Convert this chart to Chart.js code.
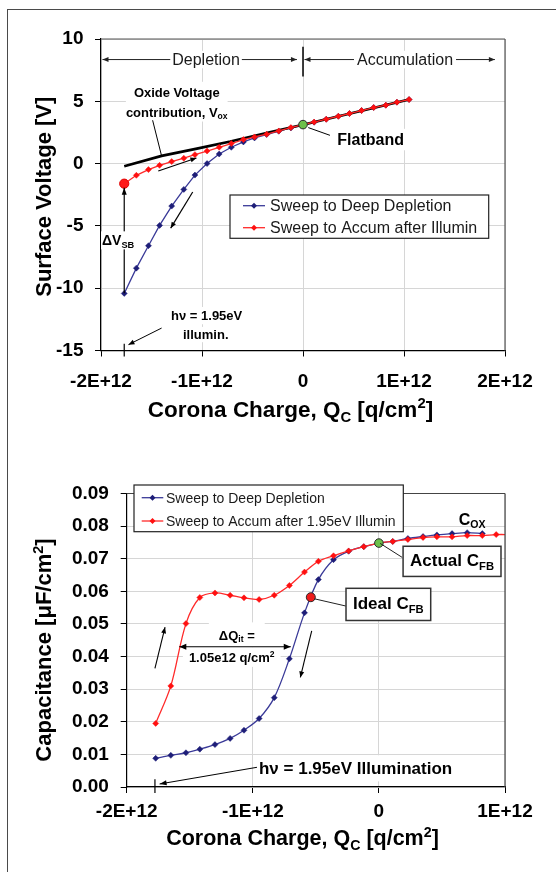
<!DOCTYPE html>
<html>
<head>
<meta charset="utf-8">
<title>Corona charge sweeps</title>
<script src="https://cdn.jsdelivr.net/npm/chart.js@4.4.1/dist/chart.umd.min.js"></script>
<style>
  html, body { margin: 0; padding: 0; background: #fff; overflow: hidden; }
  #fig { position: relative; width: 556px; height: 872px; overflow: hidden; background: #fff; }
  #frame { position: absolute; left: 7px; top: 9px; width: 600px; height: 900px;
           border-left: 1.5px solid #4a4a4a; border-top: 1.5px solid #4a4a4a; }
  canvas { position: absolute; left: 0; }
  #voltageChart { top: 0; }
  #capChart { top: 430px; }
</style>
</head>
<body>
<div id="fig">
  <div id="frame"></div>
  <canvas id="voltageChart" width="556" height="430"></canvas>
  <canvas id="capChart" width="556" height="442"></canvas>
</div>
<script>
// ---- measured sweeps -------------------------------------------------------
// corona charge deposited at each step [q/cm^2]
const chargeSteps = [-1.77e12, -1.65e12, -1.53e12, -1.42e12, -1.30e12, -1.18e12, -1.07e12,
  -0.95e12, -0.83e12, -0.71e12, -0.59e12, -0.48e12, -0.36e12, -0.24e12, -0.12e12, 0,
  0.11e12, 0.23e12, 0.35e12, 0.46e12, 0.58e12, 0.70e12, 0.82e12, 0.93e12, 1.05e12];

// surface voltage [V]
const vDeepDepletion = [-10.42, -8.39, -6.59, -4.96, -3.41, -2.07, -0.92, 0.00, 0.77, 1.31,
  1.74, 2.06, 2.33, 2.60, 2.86, 3.10, 3.32, 3.56, 3.80, 4.02, 4.26, 4.50, 4.69, 4.93, 5.14];
const vAccumIllum = [-1.61, -0.94, -0.48, -0.14, 0.16, 0.43, 0.72, 1.01, 1.31, 1.61,
  1.93, 2.14, 2.36, 2.62, 2.89, 3.12, 3.33, 3.56, 3.80, 4.02, 4.26, 4.50, 4.69, 4.93, 5.14];

// oxide voltage contribution
const oxideCharge = [-1.77e12, -1.40e12, -1.05e12, -0.72e12, -0.33e12, 0, 1.05e12];
const oxideVoltage = [-0.22, 0.62, 1.20, 1.77, 2.52, 3.12, 5.14];

// highlighted points on the voltage plot
const flatbandCharge = [0];
const flatbandVoltage = [3.13];
const illumCharge = [-1.77e12];
const illumVoltage = [-1.61];

// capacitance [uF/cm^2]
const cDeepDepletion = [0.0088, 0.0097, 0.0105, 0.0116, 0.0130, 0.0149, 0.0174, 0.0210, 0.0274,
  0.0393, 0.0534, 0.0636, 0.0697, 0.0723, 0.0737, 0.0748, 0.0753, 0.0762, 0.0768, 0.0773,
  0.0777, 0.0780, 0.0777];
const cAccumIllum = [0.0195, 0.0310, 0.0501, 0.0581, 0.0595, 0.0588, 0.0580, 0.0575, 0.0588,
  0.0618, 0.0659, 0.0692, 0.0709, 0.0724, 0.0737, 0.0748, 0.0753, 0.0759, 0.0765, 0.0767,
  0.0767, 0.0771, 0.0771, 0.0774, 0.0774];

const actualCfbCharge = [0];
const actualCfbCap = [0.0748];
const idealCfbCharge = [-0.54e12];
const idealCfbCap = [0.0582];

// axis ticks
const voltXTicks = [-2e12, -1e12, 0, 1e12, 2e12];
const voltXLabels = ['-2E+12', '-1E+12', '0', '1E+12', '2E+12'];
const voltYTicks = [-15, -10, -5, 0, 5, 10];
const voltYLabels = ['-15', '-10', '-5', '0', '5', '10'];
const capXTicks = [-2e12, -1e12, 0, 1e12];
const capXLabels = ['-2E+12', '-1E+12', '0', '1E+12'];
const capYTicks = [0, 0.01, 0.02, 0.03, 0.04, 0.05, 0.06, 0.07, 0.08, 0.09];
const capYLabels = ['0.00', '0.01', '0.02', '0.03', '0.04', '0.05', '0.06', '0.07', '0.08', '0.09'];

// ---- styling ---------------------------------------------------------------
const FONT = '"Liberation Sans", Arial, Helvetica, sans-serif';
const BLUE_LINE = '#3a3a98';
const BLUE_MARK = '#1e1e78';
const RED_LINE = '#ff2a2a';
const RED_MARK = '#ff1010';
const GREEN = '#6cc04a';
const GRID = '#d6d6d6';
const CAP_H = 0.716;

function pairs(xs, ys) {
  const n = Math.min(xs.length, ys.length);
  const out = [];
  for (let i = 0; i < n; i++) out.push({ x: xs[i], y: ys[i] });
  return out;
}

function labelFor(values, labels) {
  return (v) => {
    const i = values.findIndex(t => Math.abs(t - v) < 1e-9 * Math.max(1, Math.abs(t)));
    return i < 0 ? '' : labels[i];
  };
}

function axis(opts) {
  return {
    type: 'linear',
    min: opts.min, max: opts.max,
    afterBuildTicks: s => { s.ticks = opts.ticks.map(v => ({ value: v })); },
    afterFit: opts.fit,
    grid: { color: GRID, lineWidth: 1, tickColor: '#000', tickLength: 6, drawTicks: true },
    border: { display: true, color: '#000', width: 1.2 },
    ticks: {
      color: '#000', padding: opts.pad, autoSkip: false, maxRotation: 0,
      font: { family: FONT, size: 19, weight: 'bold' },
      callback: labelFor(opts.ticks, opts.labels)
    }
  };
}

// ---- drawing helpers -------------------------------------------------------
function font(size, bold) { return (bold ? 'bold ' : '') + size + 'px ' + FONT; }

// rich text: segments {t, sub, sup}
function richMeasure(ctx, segs, size, bold) {
  let w = 0;
  for (const s of segs) {
    ctx.font = font((s.sub || s.sup) ? size * 0.66 : size, bold);
    w += ctx.measureText(s.t).width;
  }
  return w;
}
function richText(ctx, segs, x, y, size, bold, align, color) {
  const w = richMeasure(ctx, segs, size, bold);
  let cx = align === 'center' ? x - w / 2 : (align === 'right' ? x - w : x);
  ctx.save();
  ctx.fillStyle = color || '#000';
  ctx.textBaseline = 'alphabetic';
  ctx.textAlign = 'left';
  for (const s of segs) {
    const sz = (s.sub || s.sup) ? size * 0.66 : size;
    ctx.font = font(sz, bold);
    const dy = s.sub ? size * 0.2 : (s.sup ? -size * 0.38 : 0);
    ctx.fillText(s.t, cx, y + dy);
    cx += ctx.measureText(s.t).width;
  }
  ctx.restore();
  return w;
}

function line(ctx, x1, y1, x2, y2, width, color) {
  ctx.save();
  ctx.strokeStyle = color || '#000';
  ctx.lineWidth = width || 1;
  ctx.beginPath(); ctx.moveTo(x1, y1); ctx.lineTo(x2, y2); ctx.stroke();
  ctx.restore();
}

function arrow(ctx, x1, y1, x2, y2, o) {
  o = Object.assign({ start: false, end: true, width: 1.2, color: '#000', head: 7, half: 3 }, o || {});
  ctx.save();
  ctx.strokeStyle = o.color; ctx.fillStyle = o.color; ctx.lineWidth = o.width;
  ctx.beginPath(); ctx.moveTo(x1, y1); ctx.lineTo(x2, y2); ctx.stroke();
  const head = (x, y, a) => {
    const c = Math.cos(a), s = Math.sin(a);
    ctx.beginPath();
    ctx.moveTo(x, y);
    ctx.lineTo(x - o.head * c + o.half * s, y - o.head * s - o.half * c);
    ctx.lineTo(x - o.head * c - o.half * s, y - o.head * s + o.half * c);
    ctx.closePath(); ctx.fill();
  };
  const a = Math.atan2(y2 - y1, x2 - x1);
  if (o.end) head(x2, y2, a);
  if (o.start) head(x1, y1, a + Math.PI);
  ctx.restore();
}

function whiteBox(ctx, l, t, w, h, stroke, lw) {
  ctx.save();
  ctx.fillStyle = '#fff';
  ctx.fillRect(l, t, w, h);
  if (stroke) {
    ctx.strokeStyle = stroke; ctx.lineWidth = lw || 1;
    ctx.strokeRect(l, t, w, h);
  }
  ctx.restore();
}

// text with white backing box; (x, y) is the cap-height centre
function boxedText(ctx, segs, x, y, size, bold, align, o) {
  o = o || {};
  const w = richMeasure(ctx, segs, size, bold);
  const padX = o.padX != null ? o.padX : 4, padY = o.padY != null ? o.padY : 4;
  const capH = size * CAP_H;
  const l = align === 'center' ? x - w / 2 : x;
  whiteBox(ctx, l - padX, y - capH / 2 - padY, w + 2 * padX, capH + 2 * padY + (o.extraBottom || 0), o.stroke, o.lw);
  richText(ctx, segs, l, y + capH / 2, size, bold, 'left', o.color);
}

function plotFrame(chart, color) {
  const { ctx, chartArea: a } = chart;
  line(ctx, a.left, a.top, a.right, a.top, 1.2, color);
  line(ctx, a.right, a.top, a.right, a.bottom, 1.2, color);
}

function legendBox(chart, spec) {
  const ctx = chart.ctx;
  const [l, t, r, b] = spec.box;
  whiteBox(ctx, l, t, r - l, b - t, '#222', 1.2);
  const shown = chart.data.datasets.filter(d => d.inLegend);
  shown.forEach((d, i) => {
    const y = spec.rows[i];
    line(ctx, spec.sample[0], y, spec.sample[1], y, d.borderWidth, d.borderColor);
    const m = (spec.sample[0] + spec.sample[1]) / 2, r0 = 3;
    ctx.save();
    ctx.fillStyle = d.pointBackgroundColor;
    ctx.beginPath();
    ctx.moveTo(m, y - r0); ctx.lineTo(m + r0, y); ctx.lineTo(m, y + r0); ctx.lineTo(m - r0, y);
    ctx.closePath(); ctx.fill();
    ctx.fillStyle = '#1a1a1a';
    ctx.font = font(spec.size, false);
    ctx.textBaseline = 'middle';
    ctx.fillText(d.label, spec.textX, y + 1);
    ctx.restore();
  });
}

function rotatedTitle(ctx, segs, cx, cy, size) {
  ctx.save();
  ctx.translate(cx, cy);
  ctx.rotate(-Math.PI / 2);
  richText(ctx, segs, 0, size * CAP_H / 2, size, true, 'center');
  ctx.restore();
}

const chargeTitle = [{ t: 'Corona Charge, Q' }, { t: 'C', sub: true }, { t: ' [q/cm' }, { t: '2', sup: true }, { t: ']' }];

// ---- surface voltage chart -------------------------------------------------
const voltageNotes = {
  id: 'voltageNotes',
  afterDatasetsDraw(chart) {
    const ctx = chart.ctx;
    const X = v => chart.scales.x.getPixelForValue(v);
    const Y = v => chart.scales.y.getPixelForValue(v);
    plotFrame(chart, '#555');

    // regime arrows along the top
    const yReg = Y(8.35);
    arrow(ctx, X(-0.06e12), yReg, X(-1.985e12), yReg, { start: true, width: 1, head: 6, half: 2.5, color: '#222' });
    boxedText(ctx, [{ t: 'Depletion' }], X(-0.96e12), yReg, 16, false, 'center', { padX: 2, padY: 3, color: '#1a1a1a' });
    arrow(ctx, X(1.90e12), yReg, X(0.015e12), yReg, { start: true, width: 1, head: 6, half: 2.5, color: '#222' });
    boxedText(ctx, [{ t: 'Accumulation' }], X(1.01e12), yReg, 16, false, 'center', { padX: 3, padY: 3, color: '#1a1a1a' });
    line(ctx, X(0), Y(9.37), X(0), Y(7.0), 1.5, '#000');

    // oxide voltage note
    boxedText(ctx, [{ t: 'Oxide Voltage' }], X(-1.25e12), Y(5.71), 13, true, 'center', { padX: 8, padY: 6 });
    boxedText(ctx, [{ t: 'contribution, V' }, { t: 'ox', sub: true }], X(-1.25e12), Y(4.15), 13, true, 'center', { padX: 8, padY: 5 });
    line(ctx, X(-1.489e12), Y(3.48), X(-1.40e12), Y(0.61), 1, '#000');

    // sweep direction arrows
    arrow(ctx, X(-1.433e12), Y(-0.59), X(-1.055e12), Y(0.45), { width: 1.2, head: 6, half: 2.5 });
    arrow(ctx, X(-1.092e12), Y(-2.28), X(-1.31e12), Y(-5.18), { width: 1.2, head: 6, half: 2.5 });

    // voltage step after illumination
    arrow(ctx, X(-1.77e12), Y(-10.4), X(-1.77e12), Y(-1.93), { width: 1.2, head: 7, half: 2.5 });
    boxedText(ctx, [{ t: '\u0394V' }, { t: 'SB', sub: true }], X(-1.83e12), Y(-6.16), 14, true, 'center', { padX: 1, padY: 4 });

    // illumination note
    boxedText(ctx, [{ t: 'h\u03bd = 1.95eV' }], X(-0.954e12), Y(-12.2), 13, true, 'center', { padX: 4, padY: 4 });
    boxedText(ctx, [{ t: 'illumin.' }], X(-0.963e12), Y(-13.72), 13, true, 'center', { padX: 4, padY: 3 });
    arrow(ctx, X(-1.40e12), Y(-13.2), X(-1.728e12), Y(-14.53), { width: 1, head: 6, half: 2.5 });
    line(ctx, X(-1.77e12), Y(-14.45), X(-1.77e12), Y(-15) + 6, 1.2, '#000');

    // flatband
    line(ctx, X(0.052e12), Y(2.89), X(0.267e12), Y(2.27), 1, '#000');
    boxedText(ctx, [{ t: 'Flatband' }], X(0.34e12), Y(1.93), 16, true, 'left', { padX: 3, padY: 5 });

    legendBox(chart, { box: [230, 195, 488.7, 238.3], rows: [205.7, 227.7], sample: [243, 265], textX: 270, size: 16 });
  },
  afterDraw(chart) {
    const ctx = chart.ctx;
    rotatedTitle(ctx, [{ t: 'Surface Voltage [V]' }], 43.5, 196.7, 22);
    richText(ctx, chargeTitle, 290.5, 417, 22.5, true, 'center');
  }
};

new Chart(document.getElementById('voltageChart'), {
  type: 'line',
  data: {
    datasets: [
      { label: 'Sweep to Deep Depletion', inLegend: true, data: pairs(chargeSteps, vDeepDepletion),
        borderColor: BLUE_LINE, borderWidth: 1.3, pointStyle: 'rectRot', pointRadius: 3,
        pointBackgroundColor: BLUE_MARK, pointBorderColor: BLUE_MARK, pointBorderWidth: 0.5, tension: 0, order: 3 },
      { label: 'Oxide Voltage', data: pairs(oxideCharge, oxideVoltage),
        borderColor: '#000', borderWidth: 2.6, pointRadius: 0, tension: 0, order: 2 },
      { label: 'Sweep to Accum after Illumin', inLegend: true, data: pairs(chargeSteps, vAccumIllum),
        borderColor: RED_LINE, borderWidth: 1.3, pointStyle: 'rectRot', pointRadius: 3,
        pointBackgroundColor: RED_MARK, pointBorderColor: RED_MARK, pointBorderWidth: 0.5, tension: 0, order: 1 },
      { label: 'Flatband', data: pairs(flatbandCharge, flatbandVoltage), showLine: false,
        pointStyle: 'circle', pointRadius: 4.3, pointBackgroundColor: GREEN, pointBorderColor: '#2a2a2a',
        pointBorderWidth: 1, order: 0 },
      { label: 'Illumination', data: pairs(illumCharge, illumVoltage), showLine: false,
        pointStyle: 'circle', pointRadius: 4.6, pointBackgroundColor: '#ff1a1a', pointBorderColor: '#e00000',
        pointBorderWidth: 1, order: 0 }
    ]
  },
  options: {
    responsive: false, animation: false, devicePixelRatio: 1,
    layout: { padding: { left: 0, top: 39, right: 51, bottom: 0 } },
    plugins: { legend: { display: false }, tooltip: { enabled: false } },
    scales: {
      x: axis({ min: -2e12, max: 2e12, ticks: voltXTicks, labels: voltXLabels, pad: 13.5, fit: s => { s.height = 79.5; } }),
      y: axis({ min: -15, max: 10, ticks: voltYTicks, labels: voltYLabels, pad: 11.5, fit: s => { s.width = 101; } })
    }
  },
  plugins: [voltageNotes]
});

// ---- capacitance chart -----------------------------------------------------
const capNotes = {
  id: 'capNotes',
  afterDatasetsDraw(chart) {
    const ctx = chart.ctx;
    const X = v => chart.scales.x.getPixelForValue(v);
    const Y = v => chart.scales.y.getPixelForValue(v);
    plotFrame(chart, '#444');

    // oxide capacitance
    richText(ctx, [{ t: 'C' }, { t: 'OX', sub: true }], X(0.74e12), Y(0.0821) + 16 * CAP_H / 2, 16, true, 'center');

    // flatband capacitances
    line(ctx, X(0.01e12), Y(0.0747), X(0.185e12), Y(0.0704), 1, '#222');
    boxedText(ctx, [{ t: 'Actual C' }, { t: 'FB', sub: true }], X(0.58e12), Y(0.0695), 17, true, 'center',
      { padX: 7, padY: 8, stroke: '#333', lw: 1.5, extraBottom: 2 });
    line(ctx, X(-0.51e12), Y(0.0577), X(-0.263e12), Y(0.0555), 1, '#222');
    boxedText(ctx, [{ t: 'Ideal C' }, { t: 'FB', sub: true }], X(0.075e12), Y(0.0563), 17, true, 'center',
      { padX: 7, padY: 9, stroke: '#333', lw: 1.5, extraBottom: 2 });

    // interface trap charge
    boxedText(ctx, [{ t: '\u0394Q' }, { t: 'it', sub: true }, { t: ' =' }], X(-1.127e12), Y(0.0466), 13, true, 'center', { padX: 10, padY: 8 });
    boxedText(ctx, [{ t: '1.05e12 q/cm' }, { t: '2', sup: true }], X(-1.167e12), Y(0.0398), 13, true, 'center', { padX: 6, padY: 5 });
    arrow(ctx, X(-1.583e12), Y(0.0430), X(-0.699e12), Y(0.0430), { start: true, width: 1.2, head: 7, half: 3 });

    // sweep direction arrows
    arrow(ctx, X(-1.776e12), Y(0.0364), X(-1.696e12), Y(0.0490), { width: 1.1, head: 6, half: 2.5 });
    arrow(ctx, X(-0.533e12), Y(0.0479), X(-0.623e12), Y(0.0336), { width: 1.1, head: 6, half: 2.5 });

    // illumination note
    boxedText(ctx, [{ t: 'h\u03bd = 1.95eV Illumination' }], X(-0.951e12), Y(0.00573), 17, true, 'left', { padX: 2, padY: 7 });
    arrow(ctx, X(-0.967e12), Y(0.00604), X(-1.739e12), Y(0.00092), { width: 1, head: 7, half: 2.5 });
    line(ctx, X(-1.776e12), Y(0.0024), X(-1.776e12), Y(0) + 6, 1.2, '#000');

    legendBox(chart, { box: [134, 55, 403.3, 101.7], rows: [67.7, 91], sample: [141.7, 163.3], textX: 166, size: 14 });
  },
  afterDraw(chart) {
    const ctx = chart.ctx;
    rotatedTitle(ctx, [{ t: 'Capacitance [\u03bcF/cm' }, { t: '2', sup: true }, { t: ']' }], 43.5, 220, 22);
    richText(ctx, chargeTitle, 302.5, 415.4, 21.5, true, 'center');
  }
};

new Chart(document.getElementById('capChart'), {
  type: 'line',
  data: {
    datasets: [
      { label: 'Sweep to Deep Depletion', inLegend: true, data: pairs(chargeSteps, cDeepDepletion),
        borderColor: BLUE_LINE, borderWidth: 1.3, pointStyle: 'rectRot', pointRadius: 3,
        pointBackgroundColor: BLUE_MARK, pointBorderColor: BLUE_MARK, pointBorderWidth: 0.5, tension: 0.33, order: 2 },
      { label: 'Sweep to Accum after 1.95eV Illumin', inLegend: true, data: pairs(chargeSteps, cAccumIllum),
        borderColor: RED_LINE, borderWidth: 1.3, pointStyle: 'rectRot', pointRadius: 3,
        pointBackgroundColor: RED_MARK, pointBorderColor: RED_MARK, pointBorderWidth: 0.5, tension: 0.33, order: 1, clip: 0 },
      { label: 'Actual CFB', data: pairs(actualCfbCharge, actualCfbCap), showLine: false,
        pointStyle: 'circle', pointRadius: 4.3, pointBackgroundColor: GREEN, pointBorderColor: '#2a2a2a',
        pointBorderWidth: 1, order: 0 },
      { label: 'Ideal CFB', data: pairs(idealCfbCharge, idealCfbCap), showLine: false,
        pointStyle: 'circle', pointRadius: 4.5, pointBackgroundColor: '#ee1c1c', pointBorderColor: '#2a2a2a',
        pointBorderWidth: 1, order: 0 }
    ]
  },
  options: {
    responsive: false, animation: false, devicePixelRatio: 1,
    layout: { padding: { left: 0, top: 63.5, right: 51, bottom: 0 } },
    plugins: { legend: { display: false }, tooltip: { enabled: false } },
    scales: {
      x: axis({ min: -2e12, max: 1e12, ticks: capXTicks, labels: capXLabels, pad: 7.5, fit: s => { s.height = 85; } }),
      y: axis({ min: 0, max: 0.09, ticks: capYTicks, labels: capYLabels, pad: 11.8, fit: s => { s.width = 126.7; } })
    }
  },
  plugins: [capNotes]
});
</script>
</body>
</html>
